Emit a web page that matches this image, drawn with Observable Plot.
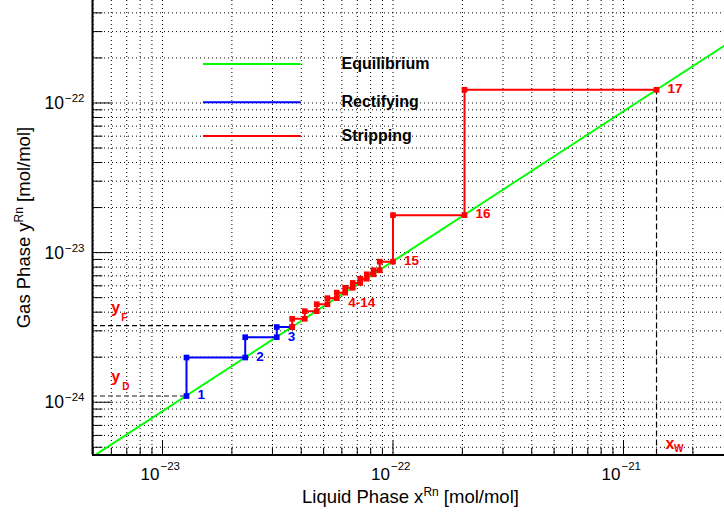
<!DOCTYPE html>
<html>
<head>
<meta charset="utf-8">
<script src="https://cdn.jsdelivr.net/npm/d3@7"></script>
<script src="https://cdn.jsdelivr.net/npm/@observablehq/plot@0.6"></script>
<style>
  body { margin: 0; background: #fff; }
  #chart svg { display: block; }
</style>
</head>
<body>
<div id="chart"></div>
<script>
// McCabe-Thiele staircase for radon in liquid / gas phase (log-log)

// Axis ranges
const xDomain = [4.97e-24, 2.743e-21];
const yDomain = [4.44e-25, 4.84e-22];

// Equilibrium line end points
const eqX = [5.0e-24, 2.8e-21];
const eqY = [4.35e-25, 2.47e-22];

// Theoretical stages (points on the equilibrium line)
const stageNo = [1, 2, 3, 4, 5, 6, 7, 8, 9, 10, 11, 12, 13, 14, 15, 16, 17];
const stageX = [1.271e-23, 2.285e-23, 3.132e-23, 3.653e-23, 4.144e-23, 4.67e-23, 5.196e-23,
                5.704e-23, 6.202e-23, 6.69e-23, 7.205e-23, 7.695e-23, 8.23e-23, 8.76e-23,
                1.0e-22, 2.043e-22, 1.391e-21];
const stageY = [1.10e-24, 1.99e-24, 2.72e-24, 3.18e-24, 3.61e-24, 4.06e-24, 4.52e-24,
                4.96e-24, 5.40e-24, 5.82e-24, 6.27e-24, 6.69e-24, 7.16e-24, 7.62e-24,
                8.70e-24, 1.78e-23, 1.225e-22];

// Sections
const rectifyingStages = [1, 2, 3, 4];
const strippingStages = [4, 5, 6, 7, 8, 9, 10, 11, 12, 13, 14, 15, 16, 17];

// Stage number labels
const labelStages = [1, 2, 3, 15, 16, 17];
const groupLabel = "4-14";
const groupLabelStage = 9;

// Reference levels
const yD = 1.10e-24;   // distillate
const yF = 3.25e-24;   // feed
const xW = 1.391e-21;  // waste

// Tick labels
const xMajor = [1e-23, 1e-22, 1e-21];
const xExp = ["\u221223", "\u221222", "\u221221"];
const yMajor = [1e-24, 1e-23, 1e-22];
const yExp = ["\u221224", "\u221223", "\u221222"];

const legendItems = ["Equilibrium", "Rectifying", "Stripping"];
const legendColors = ["#00ff00", "#0000ff", "#ff0000"];

// minor ticks (2..9 per decade) inside the axis range
function minorTicks(domain) {
  const out = [];
  const lo = Math.floor(Math.log10(domain[0])), hi = Math.ceil(Math.log10(domain[1]));
  for (let e = lo; e <= hi; ++e) {
    for (let m = 2; m <= 9; ++m) {
      const v = m * Math.pow(10, e);
      if (v > domain[0] && v < domain[1]) out.push(v);
    }
  }
  return out;
}
const xMinor = minorTicks(xDomain);
const yMinor = minorTicks(yDomain);

// staircase path: vertical step to next stage's y, then horizontal to next stage
function staircase(stages) {
  const pts = [];
  stages.forEach((s, k) => {
    const i = s - 1;
    if (k > 0) pts.push({x: stageX[stages[k - 1] - 1], y: stageY[i]});
    pts.push({x: stageX[i], y: stageY[i]});
  });
  return pts;
}
const rectPath = staircase(rectifyingStages);
const stripPath = staircase(strippingStages);

const tickH = {draw(c, l) { c.moveTo(0, 0); c.lineTo(l, 0); }};
const tickV = {draw(c, l) { c.moveTo(0, 0); c.lineTo(0, -l); }};

const font = "Liberation Sans, Arial, Helvetica, sans-serif";
const grid = {stroke: "#000", strokeWidth: 1, strokeDasharray: "1,3"};
const red = "#ff0000";

const chart = Plot.plot({
  width: 724,
  height: 512,
  marginLeft: 92,
  marginRight: 0,
  marginTop: 0,
  marginBottom: 57.5,
  style: {fontFamily: font, background: "#fff", overflow: "hidden"},
  x: {type: "log", domain: xDomain, axis: null},
  y: {type: "log", domain: yDomain, axis: null},
  marks: [
    // grid
    Plot.ruleX([...xMajor, ...xMinor], grid),
    Plot.ruleY([...yMajor, ...yMinor], grid),
    // reference levels
    Plot.ruleY([yD], {x1: xDomain[0], x2: stageX[0], stroke: "#666", strokeWidth: 1.5, strokeDasharray: "5,3"}),
    Plot.ruleY([yF], {x1: xDomain[0], x2: stageX[2], stroke: "#000", strokeWidth: 1.2, strokeDasharray: "5,3"}),
    Plot.ruleX([xW], {y1: yDomain[0], y2: stageY[16], stroke: "#000", strokeWidth: 1.2, strokeDasharray: "6,3"}),
    // equilibrium line
    Plot.line(eqX.map((x, i) => ({x, y: eqY[i]})), {x: "x", y: "y", stroke: "#00ff00", strokeWidth: 2, clip: true}),
    // rectifying and stripping staircases
    Plot.line(rectPath, {x: "x", y: "y", stroke: "#0000ff", strokeWidth: 2}),
    Plot.dot(rectPath, {x: "x", y: "y", symbol: "square", r: 3.2, fill: "#0000ff"}),
    Plot.line(stripPath, {x: "x", y: "y", stroke: red, strokeWidth: 2, clip: true}),
    Plot.dot(stripPath, {x: "x", y: "y", symbol: "square", r: 3.2, fill: red}),
    // stage numbers
    Plot.text(labelStages, {
      x: s => stageX[s - 1], y: s => stageY[s - 1], text: s => String(s),
      fill: s => s <= 3 ? "#0000ff" : red,
      textAnchor: "start", lineAnchor: "middle", dx: 11, dy: -1,
      fontSize: 13.5, fontWeight: "bold"
    }),
    Plot.text([groupLabelStage], {
      x: s => stageX[s - 1], y: s => stageY[s - 1], text: () => groupLabel,
      fill: red, textAnchor: "start", lineAnchor: "middle", dx: 3, dy: 10,
      fontSize: 13.5, fontWeight: "bold"
    }),
    // reference level labels
    Plot.text([yF], {y: d => d, frameAnchor: "left", text: () => "y", fill: red,
      textAnchor: "start", lineAnchor: "bottom", dx: 18.7, dy: -13, fontSize: 16, fontWeight: "bold"}),
    Plot.text([yF], {y: d => d, frameAnchor: "left", text: () => "F", fill: red,
      textAnchor: "start", lineAnchor: "bottom", dx: 28.7, dy: -5, fontSize: 10, fontWeight: "bold"}),
    Plot.text([yD], {y: d => d, frameAnchor: "left", text: () => "y", fill: red,
      textAnchor: "start", lineAnchor: "bottom", dx: 18.7, dy: -14.5, fontSize: 16, fontWeight: "bold"}),
    Plot.text([yD], {y: d => d, frameAnchor: "left", text: () => "D", fill: red,
      textAnchor: "start", lineAnchor: "bottom", dx: 29.7, dy: -6, fontSize: 10, fontWeight: "bold"}),
    Plot.text([xW], {x: d => d, frameAnchor: "bottom", text: () => "x", fill: red,
      textAnchor: "start", lineAnchor: "bottom", dx: 9, dy: -6, fontSize: 16, fontWeight: "bold"}),
    Plot.text([xW], {x: d => d, frameAnchor: "bottom", text: () => "W", fill: red,
      textAnchor: "start", lineAnchor: "bottom", dx: 17.5, dy: -3, fontSize: 10, fontWeight: "bold"}),
    // axis ticks (drawn inwards)
    Plot.vector(yMajor, {y: d => d, frameAnchor: "left", length: 19, anchor: "start", shape: tickH, stroke: "#000", strokeWidth: 1}),
    Plot.vector(yMinor, {y: d => d, frameAnchor: "left", length: 9.5, anchor: "start", shape: tickH, stroke: "#000", strokeWidth: 1}),
    Plot.vector(xMajor, {x: d => d, frameAnchor: "bottom", length: 14, anchor: "start", shape: tickV, stroke: "#000", strokeWidth: 1}),
    Plot.vector(xMinor, {x: d => d, frameAnchor: "bottom", length: 7, anchor: "start", shape: tickV, stroke: "#000", strokeWidth: 1}),
    // axis lines
    Plot.ruleX([xDomain[0]], {stroke: "#000", strokeWidth: 2}),
    Plot.ruleY([yDomain[0]], {stroke: "#000", strokeWidth: 2}),
    // tick labels: base and exponent
    Plot.text(xMajor, {x: d => d, frameAnchor: "bottom", text: () => "10", textAnchor: "end",
      lineAnchor: "middle", dx: -3, dy: 19.5, fontSize: 17, fill: "#000"}),
    Plot.text(xMajor, {x: d => d, frameAnchor: "bottom", text: (d, i) => xExp[i], textAnchor: "start",
      lineAnchor: "middle", dx: -2, dy: 11.5, fontSize: 11.5, fill: "#000"}),
    Plot.text(yMajor, {y: d => d, frameAnchor: "left", text: () => "10", textAnchor: "end",
      lineAnchor: "middle", dx: -28.5, dy: 0.5, fontSize: 17.5, fill: "#000"}),
    Plot.text(yMajor, {y: d => d, frameAnchor: "left", text: (d, i) => yExp[i], textAnchor: "start",
      lineAnchor: "middle", dx: -27.5, dy: -4.5, fontSize: 11.5, fill: "#000"})
  ]
});

document.getElementById("chart").appendChild(chart);

const svg = d3.select(chart);

// axis titles with superscripts
function title(g, main, sup, rest) {
  g.attr("font-family", font).attr("font-size", 18.5).attr("fill", "#000")
   .attr("text-anchor", "start");
  g.append("tspan").text(main);
  g.append("tspan").attr("font-size", 12).attr("dy", -7).text(sup);
  g.append("tspan").attr("dy", 7).text(rest);
}
title(svg.append("text").attr("x", 302).attr("y", 503),
  "Liquid Phase x", "Rn", " [mol/mol]");
title(svg.append("text").attr("transform", "translate(29.5,328.3) rotate(-90)"),
  "Gas Phase y", "Rn", " [mol/mol]");

// legend
const legendY = [64, 102.3, 136];
const lg = svg.append("g").attr("font-family", font).attr("text-anchor", "start");
legendItems.forEach((name, i) => {
  lg.append("line").attr("x1", 203).attr("x2", 300.7)
    .attr("y1", legendY[i]).attr("y2", legendY[i])
    .attr("stroke", legendColors[i]).attr("stroke-width", 2);
  lg.append("text").attr("x", 341.5).attr("y", legendY[i] + 5)
    .attr("font-size", 16).attr("font-weight", "bold").attr("fill", "#000").text(name);
});
</script>
</body>
</html>
